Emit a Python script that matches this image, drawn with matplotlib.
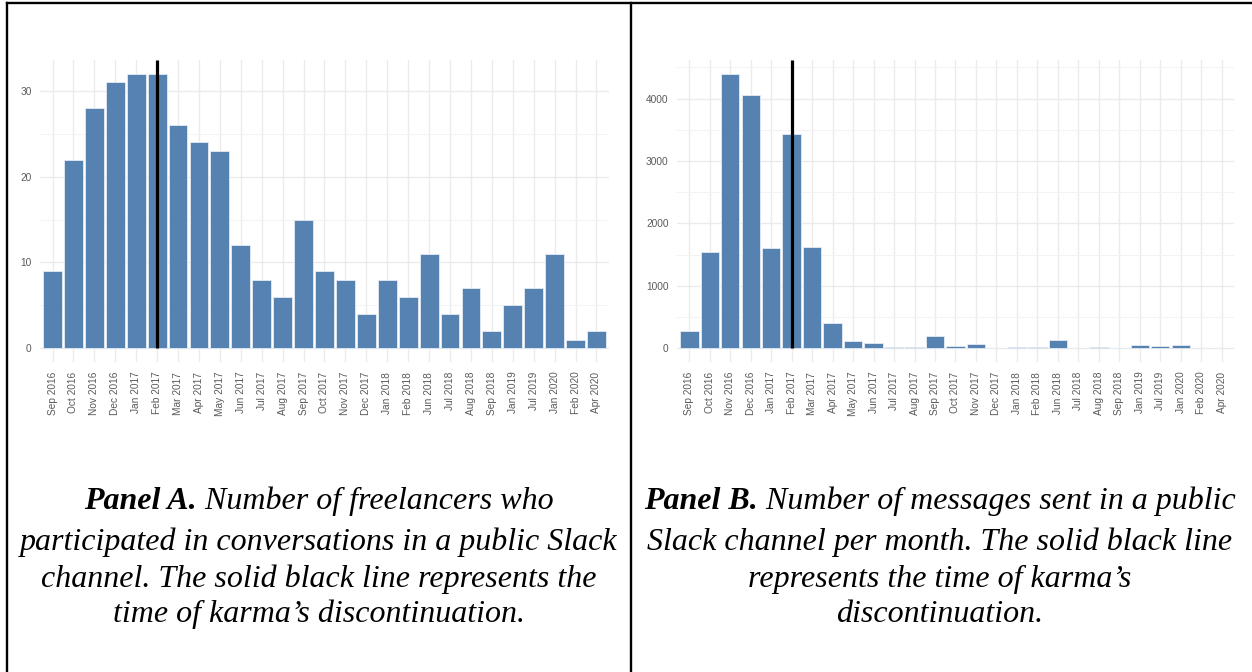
import numpy as np
import matplotlib
matplotlib.use('Agg')
import matplotlib.pyplot as plt
from matplotlib.lines import Line2D

# ---------------------------------------------------------------------
#                               data                                  |
# ---------------------------------------------------------------------
months = ['Sep 2016', 'Oct 2016', 'Nov 2016', 'Dec 2016', 'Jan 2017', 'Feb 2017',
          'Mar 2017', 'Apr 2017', 'May 2017', 'Jun 2017', 'Jul 2017', 'Aug 2017',
          'Sep 2017', 'Oct 2017', 'Nov 2017', 'Dec 2017', 'Jan 2018', 'Feb 2018',
          'Jun 2018', 'Jul 2018', 'Aug 2018', 'Sep 2018', 'Jan 2019', 'Jul 2019',
          'Jan 2020', 'Feb 2020', 'Apr 2020']

freelancers = [9, 22, 28, 31, 32, 32, 26, 24, 23, 12, 8, 6, 15, 9, 8, 4, 8, 6,
               11, 4, 7, 2, 5, 7, 11, 1, 2]

messages = [270, 1540, 4390, 4060, 1610, 3440, 1630, 400, 120, 80, 15, 15,
            200, 30, 70, 5, 20, 15, 130, 5, 20, 5, 60, 40, 60, 0, 0]

karma_month = 'Feb 2017'

caption_a = ['Panel A.', 'Number of freelancers who',
             'participated in conversations in a public Slack',
             'channel. The solid black line represents the',
             'time of karma\u2019s discontinuation.']
caption_b = ['Panel B.', 'Number of messages sent in a public',
             'Slack channel per month. The solid black line',
             'represents the time of karma\u2019s',
             'discontinuation.']

# ---------------------------------------------------------------------
#                               style                                 |
# ---------------------------------------------------------------------
W, H = 1252, 672
bar_col = '#5682b1'
grid_col = '#ebebeb'
tick_col = '#5a5a5a'
plt.rcParams['font.family'] = ['Liberation Sans', 'DejaVu Sans']

fig = plt.figure(figsize=(W / 100, H / 100), dpi=100)


def px_axes(left, top, right, bottom):
    return fig.add_axes([left / W, 1 - bottom / H, (right - left) / W, (bottom - top) / H])


def panel(ax, values, ylim, major, minor):
    x = np.arange(len(months))
    ax.bar(x, values, width=0.9, color=bar_col, edgecolor='#e4ebf3', linewidth=0.6, zorder=2)
    k = months.index(karma_month)
    ax.plot([k, k], [0, ylim[1]], color='black', lw=2.3, zorder=3, solid_capstyle='butt')
    ax.set_xlim(-0.6, len(months) - 0.4)
    ax.set_ylim(*ylim)
    ax.set_xticks(x)
    ax.set_xticklabels(months, rotation=90, ha='center', va='top', fontsize=7.3, color=tick_col)
    ax.set_yticks(major)
    ax.set_yticks(minor, minor=True)
    ax.tick_params(axis='y', labelsize=7.3, labelcolor=tick_col, length=0, pad=6)
    ax.tick_params(axis='x', length=0, pad=7)
    ax.tick_params(which='minor', length=0)
    ax.grid(True, which='major', color=grid_col, lw=1.0, zorder=0)
    ax.grid(True, which='minor', axis='y', color='#f3f3f3', lw=0.7, zorder=0)
    ax.set_axisbelow(True)
    for s in ax.spines.values():
        s.set_visible(False)


ax1 = px_axes(40, 60, 609, 362)
panel(ax1, freelancers, (-1.6, 33.6), [0, 10, 20, 30], [5, 15, 25])

ax2 = px_axes(677, 60, 1234, 362)
panel(ax2, messages, (-220, 4620), [0, 1000, 2000, 3000, 4000], [500, 1500, 2500, 3500, 4500])

# ---------------------------------------------------------------------
#                         frame and captions                          |
# ---------------------------------------------------------------------
for (x0, y0, x1, y1) in [(7, 3, 7, H), (7, 3, W, 3), (631, 3, 631, H)]:
    fig.add_artist(Line2D([x0 / W, x1 / W], [1 - y0 / H, 1 - y1 / H],
                          transform=fig.transFigure, color='black', lw=1.7))

serif = ['Liberation Serif', 'DejaVu Serif']
fs = 23
renderer = fig.canvas.get_renderer()


def caption(xc, lines):
    base = [509, 550, 587, 622]
    t1 = fig.text(0, 1 - base[0] / H, lines[0], family=serif, fontsize=fs,
                  weight='bold', style='italic', va='baseline')
    t2 = fig.text(0, 1 - base[0] / H, ' ' + lines[1], family=serif, fontsize=fs,
                  style='italic', va='baseline')
    w1 = t1.get_window_extent(renderer).width
    w2 = t2.get_window_extent(renderer).width
    start = xc - (w1 + w2) / 2
    t1.set_x(start / W)
    t2.set_x((start + w1) / W)
    for i, line in enumerate(lines[2:]):
        fig.text(xc / W, 1 - base[i + 1] / H, line, family=serif, fontsize=fs,
                 style='italic', ha='center', va='baseline')


caption(319, caption_a)
caption(940, caption_b)

fig.savefig('out.png', dpi=100)
